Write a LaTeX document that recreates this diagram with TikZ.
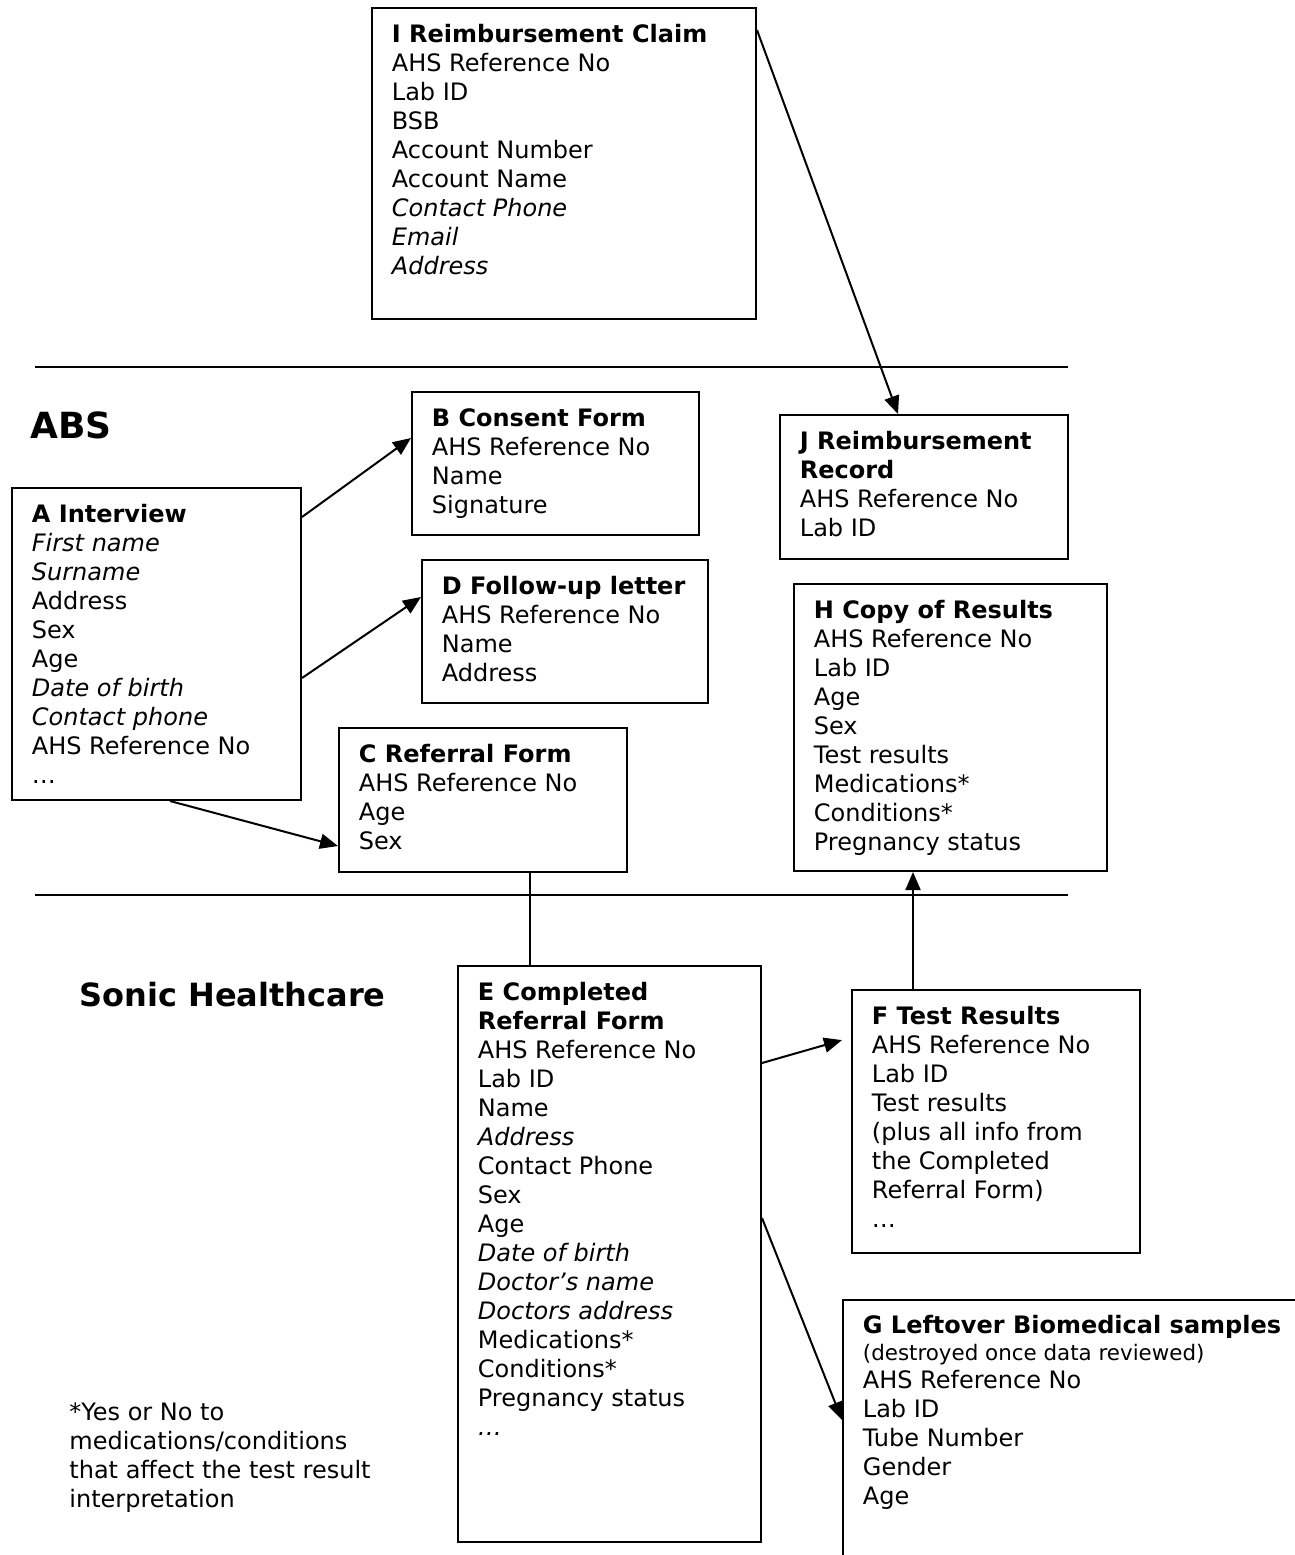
\documentclass[tikz,border=0pt]{standalone}
\usepackage{fontspec}
\setmainfont{DejaVu Sans}[ItalicFont={DejaVu Sans Oblique},BoldItalicFont={DejaVu Sans Bold Oblique}]
\usetikzlibrary{arrows.meta}

\tikzset{
  box/.style={draw, line width=1pt, anchor=north west, inner sep=0pt},
  txt/.style={anchor=north west, align=left, inner sep=0pt, font=\fontsize{12}{14.5}\selectfont},
  flow/.style={line width=1pt, -{Triangle[length=9pt,width=7.5pt]}},
  rule/.style={line width=0.8pt},
}

\begin{document}
\begin{tikzpicture}[x=0.5pt, y=-0.5pt]
  \useasboundingbox (0,0) rectangle (1295,1555);

  \draw[rule] (35,367) -- (1068,367);
  \draw[rule] (35,895) -- (1068,895);

  \node[anchor=base west, inner sep=0pt, font=\fontsize{18}{22}\selectfont\bfseries] (abs) at (30,438) {ABS};
  \node[anchor=base west, inner sep=0pt, font=\fontsize{16}{19}\selectfont\bfseries] (sonic) at (79,1006) {Sonic Healthcare};

  \node[box, minimum width=192pt, minimum height=155.5pt] (claim) at (371,7) {};
  \node[txt] (claim-t) at ([shift={(20.5,14.7)}]claim.north west) {\strut\textbf{I Reimbursement Claim}\\AHS Reference No\\Lab ID\\BSB\\Account Number\\Account Name\\\textit{Contact Phone}\\\textit{Email}\\\textit{Address}};

  \node[box, minimum width=143.5pt, minimum height=71.5pt] (cons) at (411,391) {};
  \node[txt] (cons-t) at ([shift={(20.5,14.7)}]cons.north west) {\strut\textbf{B Consent Form}\\AHS Reference No\\Name\\Signature};

  \node[box, minimum width=144pt, minimum height=72pt] (rec) at (779,414) {};
  \node[txt] (rec-t) at ([shift={(20.5,14.7)}]rec.north west) {\strut\textbf{J Reimbursement}\\\textbf{Record}\\AHS Reference No\\Lab ID};

  \node[box, minimum width=144.5pt, minimum height=156pt] (intv) at (11,487) {};
  \node[txt] (intv-t) at ([shift={(20.5,14.7)}]intv.north west) {\strut\textbf{A Interview}\\\textit{First name}\\\textit{Surname}\\Address\\Sex\\Age\\\textit{Date of birth}\\\textit{Contact phone}\\AHS Reference No\\…};

  \node[box, minimum width=143pt, minimum height=71.5pt] (folw) at (421,559) {};
  \node[txt] (folw-t) at ([shift={(20.5,14.7)}]folw.north west) {\strut\textbf{D Follow-up letter}\\AHS Reference No\\Name\\Address};

  \node[box, minimum width=156.5pt, minimum height=143.5pt] (copy) at (793,583) {};
  \node[txt] (copy-t) at ([shift={(20.5,14.7)}]copy.north west) {\strut\textbf{H Copy of Results}\\AHS Reference No\\Lab ID\\Age\\Sex\\Test results\\Medications*\\Conditions*\\Pregnancy status};

  \node[box, minimum width=144pt, minimum height=72pt] (refr) at (338,727) {};
  \node[txt] (refr-t) at ([shift={(20.5,14.7)}]refr.north west) {\strut\textbf{C Referral Form}\\AHS Reference No\\Age\\Sex};

  \node[box, minimum width=151.5pt, minimum height=288pt] (cmpl) at (457,965) {};
  \node[txt] (cmpl-t) at ([shift={(20.5,14.7)}]cmpl.north west) {\strut\textbf{E Completed}\\\textbf{Referral Form}\\AHS Reference No\\Lab ID\\Name\\\textit{Address}\\Contact Phone\\Sex\\Age\\\textit{Date of birth}\\\textit{Doctor’s name}\\\textit{Doctors address}\\Medications*\\Conditions*\\Pregnancy status\\\textit{…}};

  \node[box, minimum width=144pt, minimum height=131.5pt] (tres) at (851,989) {};
  \node[txt] (tres-t) at ([shift={(20.5,14.7)}]tres.north west) {\strut\textbf{F Test Results}\\AHS Reference No\\Lab ID\\Test results\\(plus all info from\\the Completed\\Referral Form)\\…};

  \node[box, minimum width=235pt, minimum height=140pt] (smpl) at (842,1299) {};
  \node[txt] (smpl-t) at ([shift={(20.5,13.7)}]smpl.north west) {\strut\textbf{G Leftover Biomedical samples}\\[-1pt]{\fontsize{10.7}{12.5}\selectfont (destroyed once data reviewed)}\\[-0.5pt]AHS Reference No\\Lab ID\\Tube Number\\Gender\\Age};

  \node[txt] (note) at (69,1399.7) {\strut*Yes or No to\\medications/conditions\\that affect the test result\\interpretation};

  \coordinate (ce) at ([xshift=95.75pt]refr.south west);
  \coordinate (fh) at ([xshift=31pt]tres.north west);

  \draw[flow] ([yshift=-11.5pt]claim.north east) -- ([xshift=59.5pt]rec.north west);
  \draw[flow] ([yshift=-15pt]intv.north east) -- ([yshift=-23.5pt]cons.north west);
  \draw[flow] ([yshift=-95.5pt]intv.north east) -- ([yshift=-19pt]folw.north west);
  \draw[flow] ([xshift=79.5pt]intv.south west) -- ([yshift=-59.5pt]refr.north west);
  \draw[line width=1pt] (ce) -- (ce |- cmpl.north);
  \draw[flow, shorten >=4.7pt] ([yshift=-49pt]cmpl.north east) -- ([yshift=-24.25pt]tres.north west);
  \draw[flow] ([yshift=-126.5pt]cmpl.north east) -- ([yshift=-60.5pt]smpl.north west);
  \draw[flow] (fh) -- (fh |- copy.south);
\end{tikzpicture}
\end{document}
